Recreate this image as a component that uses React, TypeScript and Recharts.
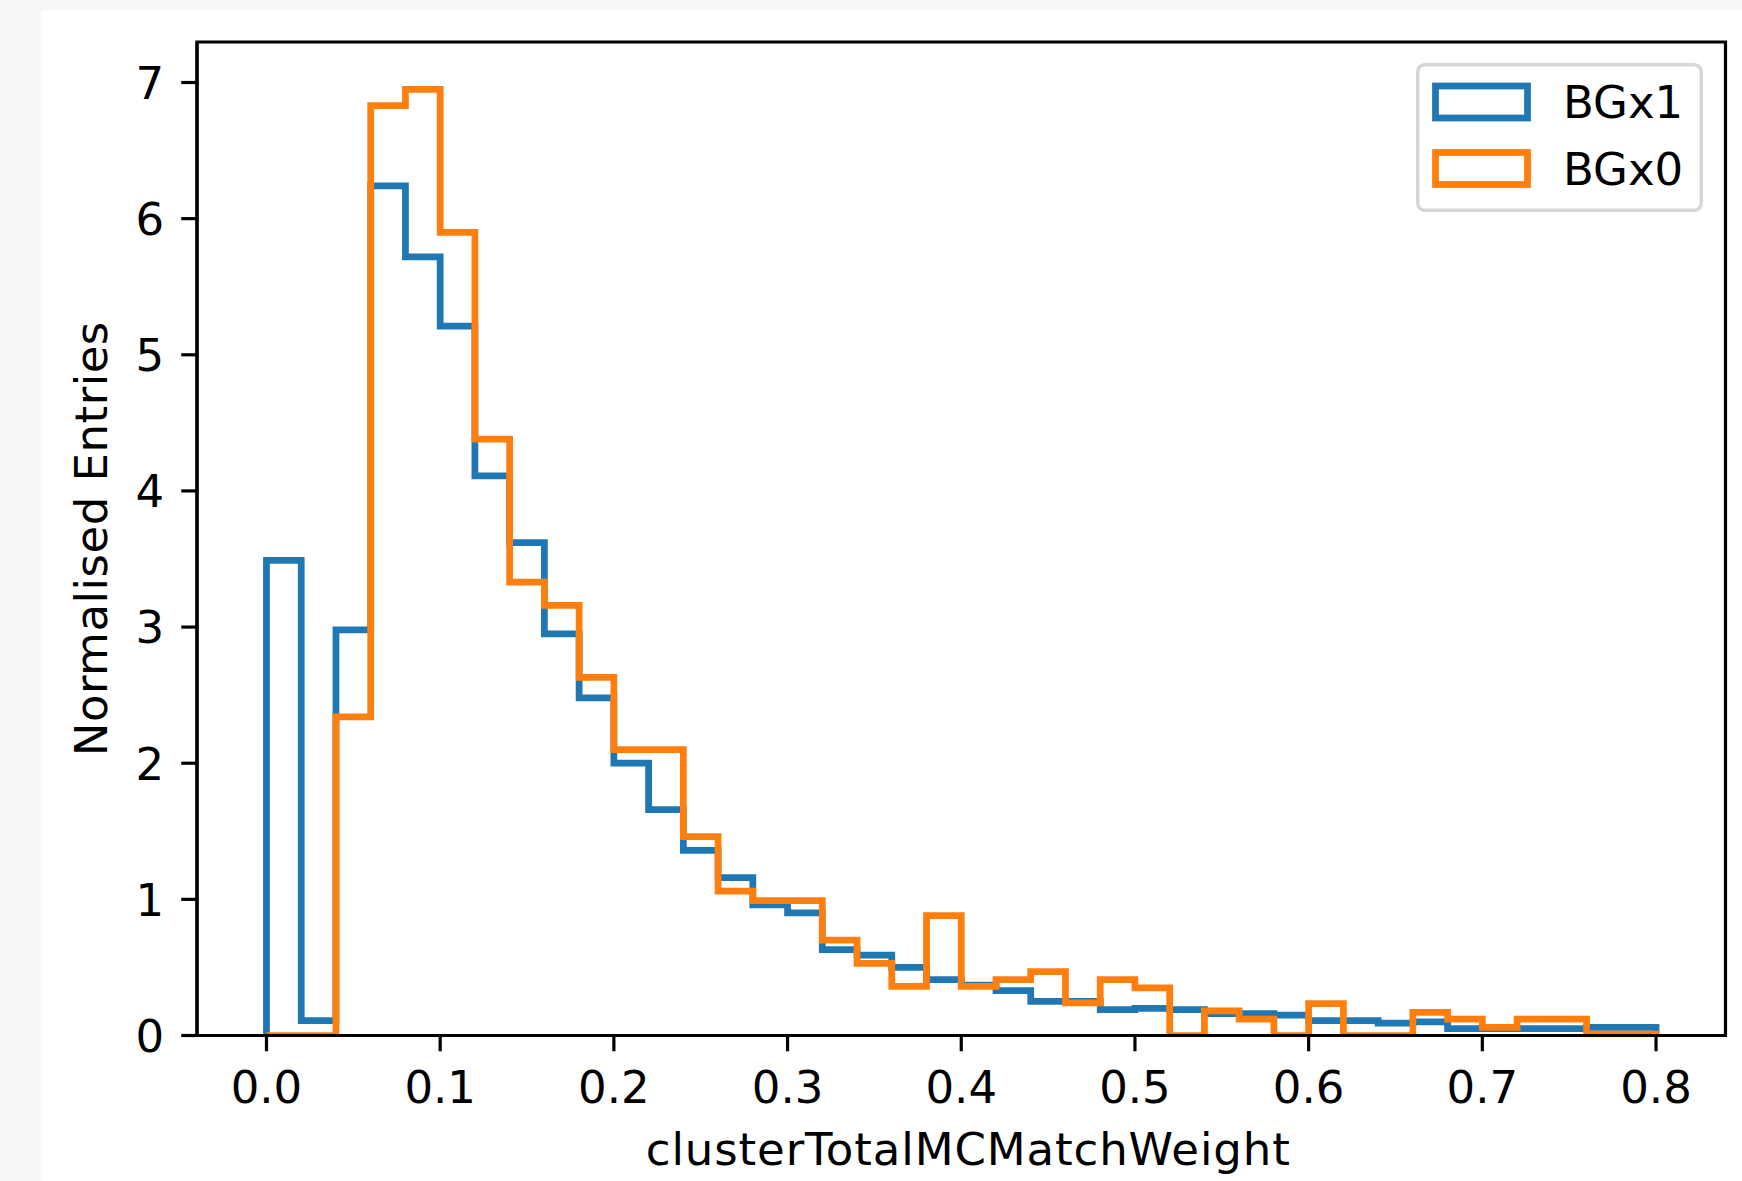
import React from 'react';
import { ComposedChart, Line, XAxis, YAxis, ReferenceArea, Legend } from 'recharts';

// Histogram bin edges (41 edges -> 40 bins of width 0.02)
const BIN_EDGES = [
  0.0, 0.02, 0.04, 0.06, 0.08, 0.1, 0.12, 0.14, 0.16, 0.18,
  0.2, 0.22, 0.24, 0.26, 0.28, 0.3, 0.32, 0.34, 0.36, 0.38,
  0.4, 0.42, 0.44, 0.46, 0.48, 0.5, 0.52, 0.54, 0.56, 0.58,
  0.6, 0.62, 0.64, 0.66, 0.68, 0.7, 0.72, 0.74, 0.76, 0.78, 0.8,
];

// Normalised entries per bin
const BGX1 = [
  3.49, 0.11, 2.98, 6.24, 5.72, 5.21, 4.11, 3.62, 2.95, 2.48,
  2.0, 1.66, 1.36, 1.16, 0.96, 0.9, 0.63, 0.59, 0.5, 0.41,
  0.37, 0.33, 0.25, 0.25, 0.19, 0.2, 0.19, 0.16, 0.16, 0.15,
  0.11, 0.11, 0.09, 0.1, 0.05, 0.05, 0.05, 0.05, 0.06, 0.06,
];
const BGX0 = [
  0.0, 0.0, 2.34, 6.83, 6.95, 5.9, 4.38, 3.33, 3.16, 2.63,
  2.1, 2.1, 1.46, 1.06, 0.99, 0.99, 0.7, 0.53, 0.36, 0.88,
  0.36, 0.41, 0.47, 0.24, 0.41, 0.35, 0.0, 0.18, 0.12, 0.0,
  0.235, 0.0, 0.0, 0.17, 0.12, 0.06, 0.12, 0.12, 0.01, 0.01,
];

const SERIES_NAMES = ['BGx1', 'BGx0'];
const SERIES_COLORS = ['#1f77b4', '#ff7f0e'];

const X_TICKS = [0.0, 0.1, 0.2, 0.3, 0.4, 0.5, 0.6, 0.7, 0.8];
const Y_TICKS = [0, 1, 2, 3, 4, 5, 6, 7];
const X_DOMAIN: [number, number] = [-0.04, 0.84];
const Y_DOMAIN: [number, number] = [0, 7.2975];

const X_LABEL = 'clusterTotalMCMatchWeight';
const Y_LABEL = 'Normalised Entries';

// Step outline: start on the baseline, one point per bin's lower edge,
// close at the last edge and drop back to the baseline.
const last = BIN_EDGES.length - 1;
const stepRows = [
  { x: BIN_EDGES[0], bg1: 0, bg0: 0 },
  ...BGX1.map((v, i) => ({ x: BIN_EDGES[i], bg1: v, bg0: BGX0[i] })),
  { x: BIN_EDGES[last], bg1: BGX1[BGX1.length - 1], bg0: BGX0[BGX0.length - 1] },
  { x: BIN_EDGES[last], bg1: 0, bg0: 0 },
];

const FONT = '"DejaVu Sans", Verdana, sans-serif';
const FONT_SIZE = 45;
const CAP = 0.729 * FONT_SIZE;

const XTick = (props: any) => {
  const { x, y, payload } = props;
  return (
    <text x={x} y={y + CAP} textAnchor="middle" fontFamily={FONT} fontSize={FONT_SIZE} fill="#000">
      {Number(payload.value).toFixed(1)}
    </text>
  );
};

const YTick = (props: any) => {
  const { x, y, payload } = props;
  return (
    <text x={x} y={y + CAP / 2} textAnchor="end" fontFamily={FONT} fontSize={FONT_SIZE} fill="#000">
      {String(payload.value)}
    </text>
  );
};

const XLabel = (props: any) => {
  const vb = props.viewBox || {};
  const cx = vb.x + vb.width / 2 + 7;
  const y = vb.y + 129.5;
  return (
    <text
      x={cx}
      y={y}
      textAnchor="middle"
      fontFamily={FONT}
      fontSize={FONT_SIZE}
      letterSpacing={0.9}
      fill="#000"
    >
      {X_LABEL}
    </text>
  );
};

const YLabel = (props: any) => {
  const vb = props.viewBox || {};
  const x = vb.x + 30;
  const cy = vb.y + vb.height / 2;
  return (
    <text
      x={x}
      y={cy}
      transform={`rotate(-90, ${x}, ${cy})`}
      textAnchor="middle"
      fontFamily={FONT}
      fontSize={FONT_SIZE}
      letterSpacing={0.5}
      fill="#000"
    >
      {Y_LABEL}
    </text>
  );
};

const LegendBox = () => (
  <svg width={287} height={149} style={{ display: 'block' }}>
    <rect
      x={1.75}
      y={1.75}
      width={283.5}
      height={145.5}
      rx={7}
      ry={7}
      fill="#ffffff"
      fillOpacity={0.8}
      stroke="#cccccc"
      strokeOpacity={0.8}
      strokeWidth={3.5}
    />
    {SERIES_NAMES.map((name, i) => (
      <g key={name}>
        <rect
          x={19.5}
          y={23 + i * 66.5}
          width={92}
          height={32}
          fill="none"
          stroke={SERIES_COLORS[i]}
          strokeWidth={6.75}
          strokeLinejoin="miter"
        />
        <text
          x={147}
          y={55.3 + i * 66.5}
          fontFamily={FONT}
          fontSize={FONT_SIZE}
          fill="#000"
        >
          {name}
        </text>
      </g>
    ))}
  </svg>
);

export default function App() {
  return (
    <div
      style={{
        position: 'absolute',
        left: 0,
        top: 0,
        width: 1742,
        height: 1181,
        background: '#f8f8f8',
        overflow: 'hidden',
      }}
    >
      <div
        style={{
          position: 'absolute',
          left: 41,
          top: 11,
          right: 0,
          bottom: 0,
          background: '#ffffff',
        }}
      />
      <div style={{ position: 'absolute', left: 0, top: 0 }}>
        <ComposedChart
          width={1742}
          height={1181}
          data={stepRows}
          margin={{ top: 42, right: 16.5, bottom: 45.5, left: 77 }}
        >
          <XAxis
            dataKey="x"
            type="number"
            domain={X_DOMAIN}
            ticks={X_TICKS}
            interval={0}
            allowDataOverflow
            height={100}
            tickSize={15.75}
            tickMargin={18.6}
            tick={<XTick />}
            axisLine={{ stroke: '#000', strokeWidth: 3.2 }}
            tickLine={{ stroke: '#000', strokeWidth: 3.2 }}
            label={<XLabel />}
          />
          <YAxis
            type="number"
            domain={Y_DOMAIN}
            ticks={Y_TICKS}
            interval={0}
            allowDataOverflow
            width={120}
            tickSize={15.75}
            tickMargin={17}
            tick={<YTick />}
            axisLine={{ stroke: '#000', strokeWidth: 3.2 }}
            tickLine={{ stroke: '#000', strokeWidth: 3.2 }}
            label={<YLabel />}
          />
          <ReferenceArea
            x1={X_DOMAIN[0]}
            x2={X_DOMAIN[1]}
            y1={Y_DOMAIN[0]}
            y2={Y_DOMAIN[1]}
            fill="none"
            fillOpacity={0}
            stroke="#000"
            strokeWidth={3.2}
            ifOverflow="visible"
          />
          <Line
            dataKey="bg1"
            name={SERIES_NAMES[0]}
            type="stepAfter"
            stroke={SERIES_COLORS[0]}
            strokeWidth={6.75}
            strokeLinejoin="miter"
            strokeLinecap="butt"
            dot={false}
            activeDot={false}
            isAnimationActive={false}
          />
          <Line
            dataKey="bg0"
            name={SERIES_NAMES[1]}
            type="stepAfter"
            stroke={SERIES_COLORS[1]}
            strokeWidth={6.75}
            strokeLinejoin="miter"
            strokeLinecap="butt"
            dot={false}
            activeDot={false}
            isAnimationActive={false}
          />
          <Legend
            layout="vertical"
            align="center"
            verticalAlign="middle"
            content={<LegendBox />}
            wrapperStyle={{ position: 'absolute', left: 1416, top: 63, width: 287, height: 149 }}
          />
        </ComposedChart>
      </div>
    </div>
  );
}
